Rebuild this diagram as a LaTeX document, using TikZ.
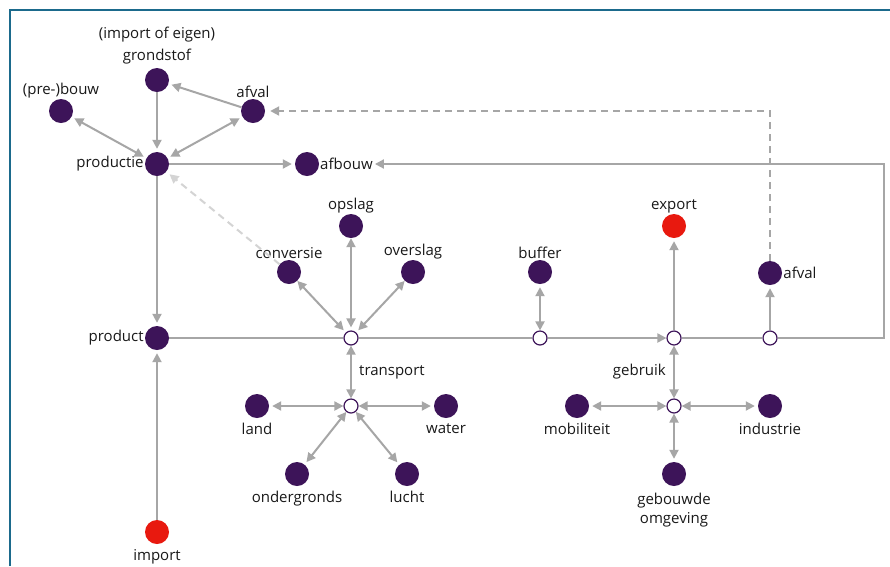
\documentclass[tikz,border=0pt]{standalone}
\usepackage{fontspec}
\setmainfont{Open Sans}
\usetikzlibrary{arrows.meta}
\definecolor{purp}{HTML}{3D1459}
\definecolor{redn}{HTML}{E8190F}
\definecolor{lgray}{HTML}{A6A6A6}
\definecolor{dgray}{HTML}{D4D4D4}
\definecolor{frameblue}{HTML}{1B6A8C}
\begin{document}
\begin{tikzpicture}[x=1pt,y=-1pt,
  dot/.style={circle,fill=purp,minimum size=24pt,inner sep=0pt,label distance=2pt},
  rdot/.style={circle,fill=redn,minimum size=24pt,inner sep=0pt,label distance=2pt},
  hub/.style={circle,draw=purp,fill=white,line width=1.2pt,minimum size=14pt,inner sep=0pt},
  every label/.style={font=\fontsize{15}{20}\selectfont,text=black!90,inner sep=1pt,align=center},
  lbl/.style={font=\fontsize{15}{20}\selectfont,text=black!90,inner sep=1pt,align=center},
  bl/.style={label={[label distance=4pt]below:#1}},
  conn/.style={draw=lgray,line width=2pt},
  tip/.tip={Triangle[length=9pt,width=9pt]},
  arr/.style={conn,-tip,shorten >=3pt},
  darr/.style={conn,tip-tip,shorten >=3pt,shorten <=3pt},
  dsh/.style={conn,dash pattern=on 7pt off 5pt,-tip,shorten >=5pt},
]
\useasboundingbox (0,0) rectangle (890,566);
\fill[white] (0,0) rectangle (890,566);
\draw[frameblue,line width=2pt] (10,566) -- (10,10) -- (890,10);

% top cluster
\node[dot,label={[label distance=3pt]above:(import of eigen)\\[2pt]grondstof}] (grond) at (157,80) {};
\node[dot,label={above:(pre-)bouw}] (prebouw) at (61,111) {};
\node[dot,label={above:afval}] (afvalT) at (253,111) {};
\node[dot,label={left:productie}] (prod) at (157,164) {};
\node[dot] (afbouw) at (307,164) {};
\node[lbl,anchor=west] (afbouwL) at (319,164) {afbouw};

% transport
\node[dot,label={above:conversie}] (conv) at (289,272) {};
\node[dot,label={above:opslag}] (opslag) at (351,226) {};
\node[dot,label={above:overslag}] (overslag) at (413,272) {};
\node[hub] (h1) at (351,338) {};
\node[hub] (t2) at (351,406) {};
\node[lbl,anchor=west] (transL) at (358,372) {transport};
\node[dot,bl=land] (land) at (257,406) {};
\node[dot,bl=water] (water) at (446,406) {};
\node[dot,bl=ondergronds] (onder) at (297,474) {};
\node[dot,bl=lucht] (lucht) at (407,474) {};

% product / import
\node[dot,label={left:product}] (product) at (157,338) {};
\node[rdot,bl=import] (import) at (157,532) {};

% buffer / export / afval
\node[dot,label={above:buffer}] (buffer) at (540,272) {};
\node[hub] (h2) at (540,338) {};
\node[rdot,label={above:export}] (export) at (674,226) {};
\node[hub] (h3) at (674,338) {};
\node[dot,label={right:afval}] (afvalR) at (770,273) {};
\node[hub] (h4) at (770,338) {};

% gebruik
\node[hub] (g2) at (674,406) {};
\node[lbl,anchor=east] (gebrL) at (667,372) {gebruik};
\node[dot,bl=mobiliteit] (mobi) at (577,406) {};
\node[dot,bl=industrie] (indu) at (770,406) {};
\node[dot,label={[label distance=6pt]below:gebouwde\\[-1pt]omgeving}] (gebouw) at (674,474) {};

\coordinate (c1) at (884,338);
\coordinate (c2) at (884,164);
\coordinate (d1) at (770,111);

% connectors
\draw[arr] (grond) -- (prod);
\draw[arr] (afvalT) -- (grond);
\draw[darr] (prod) -- (prebouw);
\draw[darr] (prod) -- (afvalT);
\draw[arr] (prod) -- (afbouw);
\draw[arr] (prod) -- (product);
\draw[conn,draw=dgray,dash pattern=on 7pt off 5pt,-tip,shorten >=4pt] (conv) -- (prod);
\draw[arr] (import) -- (product);

\draw[conn] (product) -- (h1);
\draw[conn] (h1) -- (h2);
\draw[arr,shorten >=0pt] (h2) -- (h3);
\draw[conn] (h3) -- (h4);
\draw[arr,shorten >=1pt] (h4) -- (c1) -- (c2) -- (afbouwL.east);

\draw[darr,shorten >=0pt] (h1) -- (conv);
\draw[darr,shorten <=0pt] (opslag) -- (h1);
\draw[darr,shorten <=0pt] (overslag) -- (h1);
\draw[darr,shorten >=0pt,shorten <=0pt] (h1) -- (t2);
\draw[darr,shorten <=0pt] (t2) -- (land);
\draw[darr,shorten <=0pt] (t2) -- (water);
\draw[darr,shorten <=0pt] (t2) -- (onder);
\draw[darr,shorten <=0pt] (t2) -- (lucht);

\draw[darr,shorten <=0pt] (h2) -- (buffer);
\draw[arr,shorten <=0pt] (h3) -- (export);
\draw[darr,shorten >=0pt,shorten <=0pt] (h3) -- (g2);
\draw[darr,shorten <=0pt] (g2) -- (mobi);
\draw[darr,shorten <=0pt] (g2) -- (indu);
\draw[darr,shorten <=0pt] (g2) -- (gebouw);
\draw[arr] (h4) -- (afvalR);
\draw[dsh] (afvalR) -- (d1) -- (afvalT);
\end{tikzpicture}
\end{document}
